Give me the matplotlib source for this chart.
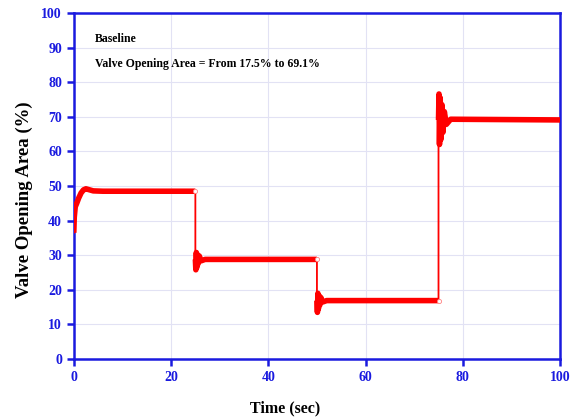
import matplotlib.pyplot as plt

# valve opening trace, one list per setpoint interval
seg_t = [
    [0, 0.1, 0.3, 0.6, 1.0, 1.5, 2.0, 2.5, 3.0, 4.0, 6.0, 25],
    [25, 25.1, 25.2, 25.3, 25.4, 25.6, 25.8, 26.2, 27, 50],
    [50, 50.1, 50.2, 50.3, 50.45, 50.6, 50.8, 51.2, 52, 75],
    [75, 75.1, 75.2, 75.35, 75.5, 75.7, 75.9, 76.2, 76.6, 77.5, 100],
]
seg_v = [
    [36.5, 41.0, 44.0, 45.0, 46.5, 48.0, 48.9, 49.2, 49.0, 48.6, 48.5, 48.5],
    [28.8, 25.8, 30.8, 26.5, 30.2, 27.6, 29.8, 28.4, 28.8, 28.8],
    [16.9, 13.5, 19.0, 14.5, 18.3, 15.6, 17.8, 16.5, 16.9, 16.9],
    [69.1, 76.6, 62.0, 75.5, 63.5, 73.5, 65.5, 71.5, 67.8, 69.3, 69.1],
]
# setpoint changes
step_t = [25, 50, 75]
step_v = [48.5, 28.8, 16.9]

xticks = [0, 20, 40, 60, 80, 100]
yticks = [0, 10, 20, 30, 40, 50, 60, 70, 80, 90, 100]

blue = '#1a1adf'
red = '#ff0000'
serif = ['Liberation Serif', 'DejaVu Serif']

fig = plt.figure(figsize=(5.81, 4.19), dpi=100)
ax = fig.add_axes([0.127, 0.143, 0.837, 0.826])

# thin line through everything (gives the vertical jumps), thick on the plateaus
all_t = [t for s in seg_t for t in s]
all_v = [v for s in seg_v for v in s]
ax.plot(all_t, all_v, color=red, lw=1.3, zorder=3)
for t, v in zip(seg_t, seg_v):
    ax.plot(t, v, color=red, lw=4.0, solid_capstyle='butt', zorder=4)
ax.plot(step_t, step_v, 'o', ms=3, mfc='white', mec='#ff8080', mew=0.6, zorder=5)

ax.set_xlim(0, 100)
ax.set_ylim(0, 100)
ax.set_xticks(xticks)
ax.set_yticks(yticks)
ax.grid(True, color='#e2e2f4', lw=0.8)
ax.set_axisbelow(True)

for sp in ax.spines.values():
    sp.set_color(blue)
    sp.set_linewidth(1.8)
ax.tick_params(colors=blue, width=1.8, length=5, direction='out', labelsize=10)
for lab in ax.get_xticklabels() + ax.get_yticklabels():
    lab.set_family(serif)
    lab.set_fontweight('bold')

ax.set_xlabel('Time (sec)', family=serif, fontweight='bold', fontsize=11.5)
ax.set_ylabel('Valve Opening Area (%)', family=serif, fontweight='bold', fontsize=13.5)
ax.xaxis.set_label_coords(0.434, -0.118)
ax.yaxis.set_label_coords(-0.084, 0.462)

ax.text(4.3, 92.5, 'Baseline', family=serif, fontweight='bold', fontsize=8.5, va='center')
ax.text(4.3, 85.3, 'Valve Opening Area = From 17.5% to 69.1%', family=serif,
        fontweight='bold', fontsize=8.5, va='center')

fig.savefig('out.png', dpi=100)
